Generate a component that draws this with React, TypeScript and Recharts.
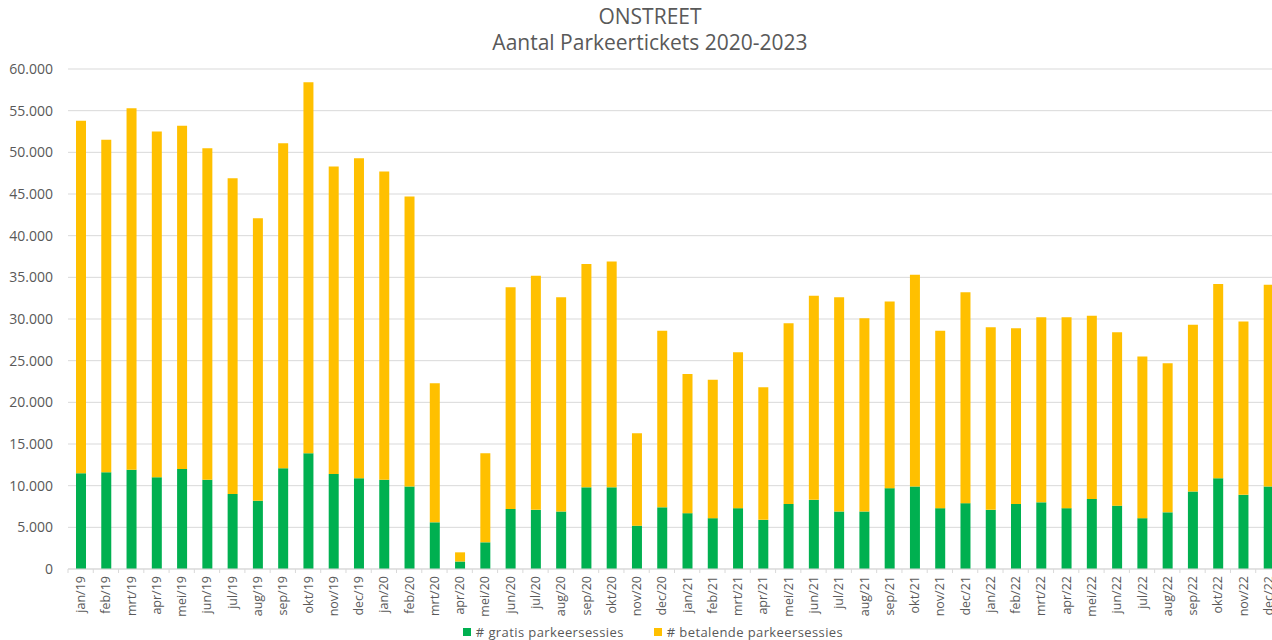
import React from "react";
import { BarChart, Bar, XAxis, YAxis, CartesianGrid } from "recharts";

const months: string[] = [
  "jan/19", "feb/19", "mrt/19", "apr/19", "mei/19", "jun/19", "jul/19", "aug/19", "sep/19", "okt/19", "nov/19", "dec/19",
  "jan/20", "feb/20", "mrt/20", "apr/20", "mei/20", "jun/20", "jul/20", "aug/20", "sep/20", "okt/20", "nov/20", "dec/20",
  "jan/21", "feb/21", "mrt/21", "apr/21", "mei/21", "jun/21", "jul/21", "aug/21", "sep/21", "okt/21", "nov/21", "dec/21",
  "jan/22", "feb/22", "mrt/22", "apr/22", "mei/22", "jun/22", "jul/22", "aug/22", "sep/22", "okt/22", "nov/22", "dec/22",
];

const gratis: number[] = [
  11500, 11600, 11900, 11000, 12000, 10700, 9000, 8200, 12100, 13900, 11400, 10900,
  10700, 9900, 5600, 900, 3200, 7200, 7100, 6900, 9800, 9800, 5200, 7400,
  6700, 6100, 7300, 5900, 7800, 8300, 6900, 6900, 9700, 9900, 7300, 7900,
  7100, 7800, 8000, 7300, 8400, 7600, 6100, 6800, 9300, 10900, 8900, 9900,
];

const betalende: number[] = [
  42300, 39900, 43400, 41500, 41200, 39800, 37900, 33900, 39000, 44500, 36900, 38400,
  37000, 34800, 16700, 1100, 10700, 26600, 28100, 25700, 26800, 27100, 11100, 21200,
  16700, 16600, 18700, 15900, 21700, 24500, 25700, 23200, 22400, 25400, 21300, 25300,
  21900, 21100, 22200, 22900, 22000, 20800, 19400, 17900, 20000, 23300, 20800, 24200,
];

const yTicks: number[] = [0, 5000, 10000, 15000, 20000, 25000, 30000, 35000, 40000, 45000, 50000, 55000, 60000];

const seriesNames = ["# gratis parkeersessies", "# betalende parkeersessies"];
const titleLines = ["ONSTREET", "Aantal Parkeertickets 2020-2023"];

const GREEN = "#00B050";
const YELLOW = "#FFC000";
const TEXT = "#595959";
const FONT = "'Open Sans', 'Liberation Sans', sans-serif";

const CHART_W = 1290;
const MARGIN = { top: 69, right: 9, bottom: 21, left: 8 };
const Y_W = 60;
const BAND = (CHART_W - MARGIN.left - MARGIN.right - Y_W) / months.length;

const data = months.map((m, i) => ({ month: m, gratis: gratis[i], betalende: betalende[i] }));

const fmt = (v: number) => {
  const s = String(Math.round(v));
  return s.replace(/\B(?=(\d{3})+(?!\d))/g, ".");
};

const XTick = (props: any) => {
  const { x, y, payload } = props;
  const axisY = y - 7;
  return (
    <g>
      <line x1={x - BAND / 2} x2={x - BAND / 2} y1={axisY} y2={axisY + 4} stroke="#d9d9d9" />
      <text
        x={0}
        y={0}
        transform={`translate(${x + 4.5},${y}) rotate(-90)`}
        textAnchor="end"
        fontSize={12.5}
        fill={TEXT}
        fontFamily={FONT}
      >
        {payload.value}
      </text>
    </g>
  );
};

export default function App() {
  return (
    <div
      style={{
        position: "absolute",
        left: 0,
        top: 0,
        width: 1272,
        height: 640,
        overflow: "hidden",
        background: "#fff",
        fontFamily: FONT,
      }}
    >
      <div
        style={{
          position: "absolute",
          left: 0,
          top: 3,
          width: 1300,
          textAlign: "center",
          color: TEXT,
          fontSize: 21,
          lineHeight: "26px",
        }}
      >
        <div>{titleLines[0]}</div>
        <div>{titleLines[1]}</div>
      </div>
      <BarChart
        width={CHART_W}
        height={640}
        data={data}
        margin={MARGIN}
        barSize={10}
        style={{ position: "absolute", left: 0, top: 0 }}
      >
        <CartesianGrid vertical={false} stroke="#d9d9d9" />
        <XAxis
          dataKey="month"
          interval={0}
          tickLine={false}
          tickSize={0}
          tickMargin={7}
          height={50}
          stroke="#d9d9d9"
          tick={<XTick />}
        />
        <YAxis
          width={Y_W}
          domain={[0, 60000]}
          ticks={yTicks}
          tickFormatter={fmt}
          axisLine={false}
          tickLine={false}
          tickSize={0}
          tickMargin={15}
          tick={{ fill: TEXT, fontSize: 14, fontFamily: FONT }}
        />
        <Bar dataKey="gratis" stackId="a" fill={GREEN} isAnimationActive={false} />
        <Bar dataKey="betalende" stackId="a" fill={YELLOW} isAnimationActive={false} />
      </BarChart>
      <div
        style={{
          position: "absolute",
          left: 0,
          top: 623,
          width: 1306,
          display: "flex",
          justifyContent: "center",
          fontSize: 13,
          color: TEXT,
          letterSpacing: 0.4,
        }}
      >
        <div style={{ display: "flex", alignItems: "center", marginRight: 30 }}>
          <span style={{ display: "inline-block", width: 8, height: 8, background: GREEN, marginRight: 5 }} />
          {seriesNames[0]}
        </div>
        <div style={{ display: "flex", alignItems: "center" }}>
          <span style={{ display: "inline-block", width: 8, height: 8, background: YELLOW, marginRight: 5 }} />
          {seriesNames[1]}
        </div>
      </div>
    </div>
  );
}
